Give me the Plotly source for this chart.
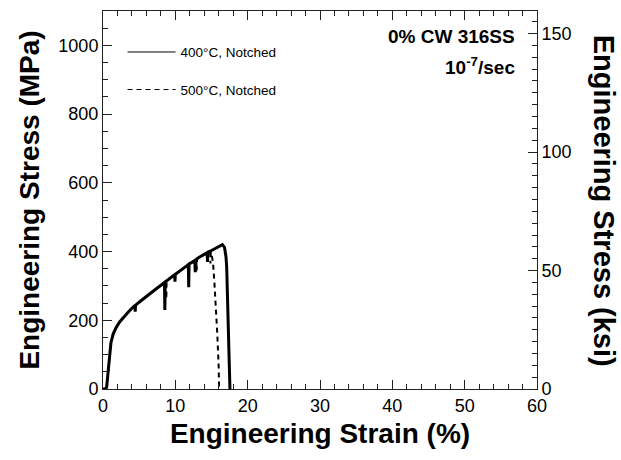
import plotly.graph_objects as go

# ---- data ----
strain_400 = [0.0, 0.3, 0.5, 0.7, 0.9, 1.1, 1.4, 1.8, 2.3, 3.0, 3.5, 4.0, 4.4, 4.45, 4.5,
              5.2, 6.0, 6.8, 7.5, 8.2, 8.5, 8.55, 8.6, 9.0, 9.6, 9.9, 9.95, 10.0, 10.2,
              10.8, 11.3, 11.8, 11.85, 11.9, 12.4, 12.7, 12.75, 12.8, 13.2, 13.8, 14.4,
              14.45, 14.5, 15.0, 15.6, 16.2, 16.5, 16.8, 17.0, 17.1, 17.2, 17.3, 17.4,
              17.5, 17.55]
stress_400 = [0, 0, 5, 50, 95, 135, 160, 178, 195, 213, 224, 235, 243, 225, 244,
              256, 270, 283, 294, 305, 310, 230, 312, 318, 328, 333, 312, 334, 337,
              347, 355, 362, 296, 364, 370, 374, 340, 376, 382, 390, 397,
              370, 398, 403, 409, 416, 420, 412, 385, 355, 280, 210, 130,
              55, 0]

strain_500 = [0.0, 0.3, 0.5, 0.7, 0.9, 1.1, 1.4, 1.8, 2.3, 3.0, 4.0, 5.2, 6.0, 6.8, 7.5,
              8.2, 8.7, 8.75, 8.8, 9.6, 10.8, 11.8, 12.9, 12.95, 13.0, 13.8, 14.4,
              14.8, 14.85, 14.9, 15.0, 15.2, 15.4, 15.6, 15.8, 16.0, 16.05]
stress_500 = [0, 0, 5, 50, 95, 135, 160, 178, 195, 213, 235, 256, 270, 283, 294,
              305, 312, 262, 313, 328, 347, 362, 378, 345, 379, 388, 394,
              398, 365, 399, 392, 370, 310, 250, 160, 60, 0]

legend_names = ["400°C, Notched", "500°C, Notched"]
x_ticks = [0, 10, 20, 30, 40, 50, 60]
y_ticks_mpa = [0, 200, 400, 600, 800, 1000]
y_ticks_ksi = [0, 50, 100, 150]
MPA_PER_KSI = 6.89476
y_max_mpa = 1100

FONT = "Liberation Sans, Arial, sans-serif"

fig = go.Figure()

fig.add_trace(go.Scatter(x=strain_500, y=stress_500, mode="lines",
                         line=dict(color="black", width=2, dash="5px,4px"),
                         showlegend=False, hoverinfo="skip"))
fig.add_trace(go.Scatter(x=strain_400, y=stress_400, mode="lines",
                         line=dict(color="black", width=3),
                         showlegend=False, hoverinfo="skip"))

# legend entries (thin lines as in the reference)
fig.add_trace(go.Scatter(x=[None], y=[None], mode="lines", name=legend_names[0],
                         line=dict(color="black", width=1), legendgroup="a"))
fig.add_trace(go.Scatter(x=[None], y=[None], mode="lines", name=legend_names[1],
                         line=dict(color="black", width=1, dash="5px,4px"), legendgroup="b"))

axis_common = dict(
    showline=True, linecolor="#222", linewidth=1,
    ticks="inside", ticklen=9, tickwidth=1, tickcolor="#222",
    showgrid=False, zeroline=False,
    tickfont=dict(family=FONT, size=18, color="black"),
)

fig.update_layout(
    width=621, height=460,
    margin=dict(l=103, r=84, t=11, b=71),
    paper_bgcolor="white", plot_bgcolor="white",
    font=dict(family=FONT, color="black"),
    xaxis=dict(
        range=[0, 60], tickvals=x_ticks, mirror="ticks",
        minor=dict(dtick=2, ticklen=5, ticks="inside", tickcolor="#222"),
        title=dict(text="Engineering Strain (%)",
                   font=dict(family=FONT, size=28, weight="bold"), standoff=8),
        **axis_common,
    ),
    yaxis=dict(
        range=[0, y_max_mpa], tickvals=y_ticks_mpa,
        minor=dict(dtick=50, ticklen=5, ticks="inside", tickcolor="#222"),
        title=dict(text="Engineering Stress (MPa)",
                   font=dict(family=FONT, size=28, weight="bold"), standoff=10),
        **axis_common,
    ),
    yaxis2=dict(
        range=[0, y_max_mpa / MPA_PER_KSI], tickvals=y_ticks_ksi,
        overlaying="y", side="right",
        minor=dict(dtick=5, ticklen=5, ticks="inside", tickcolor="#222"),
        **axis_common,
    ),
    legend=dict(
        x=0.045, y=0.932, xanchor="left", yanchor="top",
        bgcolor="rgba(0,0,0,0)", font=dict(family=FONT, size=13.5),
        tracegroupgap=17, itemwidth=48,
    ),
    annotations=[
        dict(text="<b>0% CW 316SS</b>", x=57.3, y=1026, xref="x", yref="y",
             xanchor="right", yanchor="middle", showarrow=False,
             font=dict(family=FONT, size=19)),
        dict(text="<b>10<sup>-7</sup>/sec</b>", x=57.3, y=939, xref="x", yref="y",
             xanchor="right", yanchor="middle", showarrow=False,
             font=dict(family=FONT, size=19)),
        dict(text="<b>Engineering Stress (ksi)</b>", textangle=90,
             x=1.153, y=0.497, xref="paper", yref="paper",
             xanchor="center", yanchor="middle", showarrow=False,
             font=dict(family=FONT, size=29)),
    ],
)

# a hidden trace bound to the right axis so it is drawn
fig.add_trace(go.Scatter(x=[None], y=[None], yaxis="y2", showlegend=False, hoverinfo="skip"))

fig.write_html("out.html")
